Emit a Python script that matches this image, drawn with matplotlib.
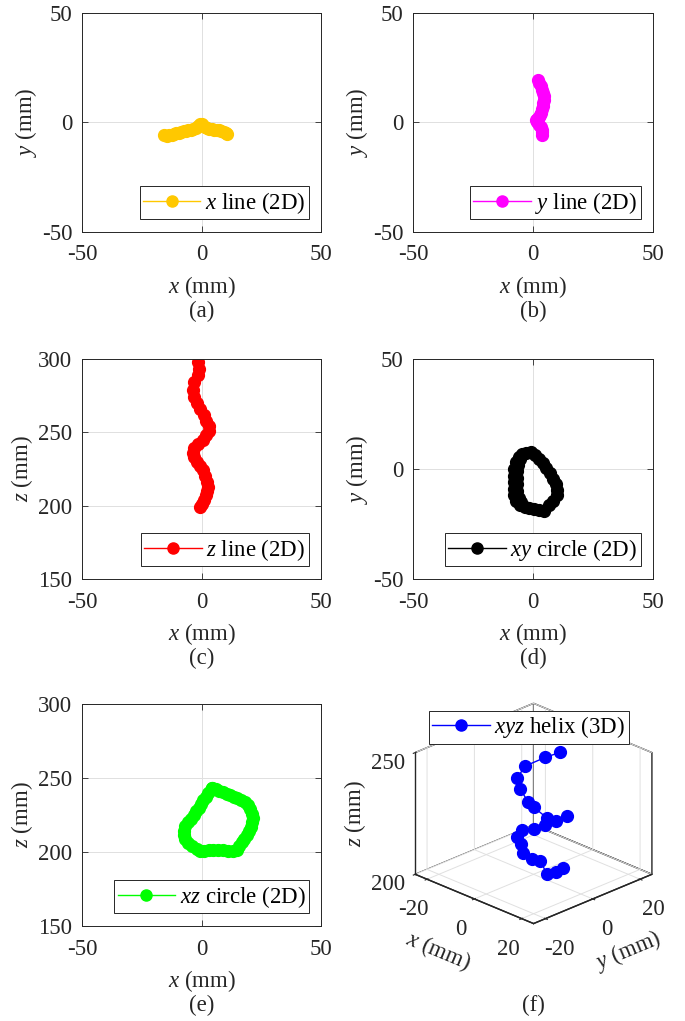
import matplotlib
matplotlib.use('Agg')
import matplotlib.pyplot as plt

plt.rcParams['font.family'] = ['Liberation Serif', 'DejaVu Serif']
plt.rcParams['mathtext.fontset'] = 'custom'
plt.rcParams['mathtext.rm'] = 'Liberation Serif'
plt.rcParams['mathtext.it'] = 'Liberation Serif:italic'
plt.rcParams['axes.unicode_minus'] = False
plt.rcParams['font.size'] = 16.5
plt.rcParams['grid.color'] = '#e0e0e0'
plt.rcParams['grid.linewidth'] = 0.7
plt.rcParams['text.color'] = '#262626'
plt.rcParams['axes.labelcolor'] = '#262626'
plt.rcParams['xtick.color'] = '#262626'
plt.rcParams['ytick.color'] = '#262626'

# (a) x line
xline_x = [-15.5, -14.5, -13.5, -12.5, -11.5, -10.5, -9.5, -8.5, -7.5, -6.5, -5.5, -4.5, -3.5, -2.5,
           -1.5, -0.5, 0.3, 1.3, 2.3, 3.3, 4.3, 5.3, 6.3, 7.3, 8.3, 9.3, 10.3, 10.8]
xline_y = [-5.8, -6.0, -5.9, -5.6, -5.3, -5.0, -4.6, -4.3, -4.0, -3.8, -3.5, -3.2, -2.8, -2.3,
           -1.6, -0.9, -0.6, -2.0, -2.7, -2.9, -3.0, -3.2, -3.4, -3.6, -3.9, -4.3, -4.8, -5.3]

# (b) y line
yline_x = [2.2, 2.6, 3.2, 3.8, 4.3, 4.5, 4.4, 4.2, 4.0, 3.7, 3.4, 3.1, 2.6, 1.8, 1.2, 1.8, 2.6, 3.2, 3.6, 3.7, 3.7]
yline_y = [19.5, 18, 16.5, 15, 13.5, 12, 10.5, 9, 7.5, 6, 4.5, 3.5, 2.5, 1.8, 1.0, 0, -1, -2.2, -3.4, -4.5, -5.5]

# (c) z line
zline_x = [-1.6, -1.0, -1.5, -3.0, -3.4, -3.0, -2.0, -0.5, 1.0, 2.0, 3.0, 3.0, 2.0, 0.5, -1.5,
           -3.0, -3.5, -3.0, -2.0, -0.5, 0.5, 1.5, 2.5, 2.8, 2.5, 2.0, 1.0, 0.0, -0.5]
zline_z = [298, 293, 289, 284, 279, 274, 270, 266, 262, 258, 254, 251, 248, 245, 242,
           239, 236, 233, 230, 227, 224, 220, 216, 213, 210, 207, 204, 201, 199]

# (d) xy circle (one lap, then a second pass down the left side)
xycirc_x = [-3, -1, 1, 2.5, 4, 5.5, 7, 8.5, 9.5, 10, 10, 8.5, 6.5, 4.5, 2.5, 0.5, -1.5, -3.5, -5.5, -7,
            -8, -8, -8, -8, -7.8, -7.2, -6, -4.5, -5.5, -6.3, -6.5, -6.5, -6.5, -6.5, -6, -5]
xycirc_y = [7.2, 7.5, 6.5, 4.5, 2.5, 0.3, -2, -4.5, -7, -9.5, -12, -14.5, -16.5, -19, -18.5, -18, -17.8, -17.5, -16.5, -14.5,
            -12, -9, -6, -3, 0, 3, 5.5, 6.8, 4.5, 2, -1, -4, -7, -10, -13, -15]

# (e) xz circle
xzcirc_x = [4.5, 6, 7.5, 9, 10.5, 12, 13.5, 15, 16.5, 18, 19.5, 20.5, 21.3, 21.5, 21.3, 20.8, 20, 19, 17.8,
            16.8, 15.8, 14.8, 13, 11, 9, 7, 5, 3, 1, -0.5, -2, -3.8, -5.5, -6.8, -7.5, -7.5, -7, -5.8,
            -4.5, -3.2, -2.2, -1.2, -0.2, 0.8, 1.8, 2.8, 3.8, 4.5]
xzcirc_z = [243, 242.5, 241.5, 240.5, 239.5, 238.5, 237.5, 236.5, 235, 233.5, 231.5, 229, 226, 223, 220, 217, 214, 211.5, 209,
            206.5, 204, 201.5, 201, 201, 201.3, 201.5, 201.6, 201.5, 201, 200.5, 202, 204, 206, 208.5, 211.5, 214.5, 217.5, 220,
            222.5, 225, 227.5, 230, 232.5, 235, 237.5, 240, 242, 243]

# (f) xyz helix
helix_x = [7.95, 9.4, 8.3, 7.0, 4.9, 1.7, 0.45, -2.15, -5.45, -4.7, -2.5, 6.75, 9.4, 8.3, 5.3, 3.6, -0.1, -3.15, -5.55, -2.5, 2.3]
helix_y = [4.45, 0.2, -2.6, -4.1, -5.4, -6.0, -5.85, -4.65, 0.75, 4.8, 7.5, 7.25, 0.2, -2.6, -5.2, -5.8, -5.7, -3.65, 1.95, 7.5, 8.95]
helix_z = [204.1, 204.8, 204.4, 209.9, 210.3, 211.7, 215.2, 216.3, 215.5, 214.8, 216.4, 223.9, 225.6, 227.5, 231.8, 233.4, 237.5, 239.9, 241.4, 244.0, 247.4]

W, H = 685, 1021
fig = plt.figure(figsize=(W / 100, H / 100), dpi=100)
MS = 8.5


def rect(left, top, right, bottom):
    return [left / W, 1 - bottom / H, (right - left) / W, (bottom - top) / H]


def style_legend(leg):
    leg.get_frame().set_linewidth(0.7)
    for t in leg.get_texts():
        t.set_color('black')


def panel(box, xs, ys, color, label, ylab, ylim, yticks, cap):
    ax = fig.add_axes(rect(*box))
    ax.plot(xs, ys, '-o', color=color, mfc=color, mec=color, ms=MS, lw=1, label=label)
    ax.set_xlim(-50, 50)
    ax.set_ylim(*ylim)
    ax.set_xticks([-50, 0, 50])
    ax.set_yticks(yticks)
    ax.grid(True)
    ax.set_axisbelow(True)
    ax.tick_params(direction='in', length=4, width=0.6, top=True, right=True)
    ax.tick_params(axis='x', pad=9)
    ax.tick_params(axis='y', pad=7)
    for s in ax.spines.values():
        s.set_color('#262626')
        s.set_linewidth(0.7)
    ax.set_xlabel('$x$ (mm)', labelpad=6)
    ax.set_ylabel(ylab, labelpad=2)
    leg = ax.legend(loc='lower right', bbox_to_anchor=(0.949, 0.058), borderaxespad=0,
                    fancybox=False, edgecolor='#262626', framealpha=1,
                    handlelength=2.5, handletextpad=0.2, borderpad=0.15, markerscale=8 / MS)
    style_legend(leg)
    cx = (box[0] + box[2]) / 2
    fig.text(cx / W, 1 - (box[3] + 79) / H, cap, ha='center', va='center')
    return ax


panel((82, 13, 321, 232), xline_x, xline_y, '#ffc800', '$x$ line (2D)', '$y$ (mm)', (-50, 50), [-50, 0, 50], '(a)')
panel((413, 13, 653, 232), yline_x, yline_y, '#ff00ff', '$y$ line (2D)', '$y$ (mm)', (-50, 50), [-50, 0, 50], '(b)')
panel((82, 359, 321, 579), zline_x, zline_z, '#ff0000', '$z$ line (2D)', '$z$ (mm)', (150, 300), [150, 200, 250, 300], '(c)')
panel((413, 359, 653, 579), xycirc_x, xycirc_y, '#000000', '$xy$ circle (2D)', '$y$ (mm)', (-50, 50), [-50, 0, 50], '(d)')
panel((82, 704, 321, 926), xzcirc_x, xzcirc_z, '#00ff00', '$xz$ circle (2D)', '$z$ (mm)', (150, 300), [150, 200, 250, 300], '(e)')

# (f) 3D helix
ax3 = fig.add_axes(rect(381, 685, 679, 949), projection='3d')
ax3.set_proj_type('ortho')
ax3.view_init(elev=24.6, azim=-45)
ax3.set_box_aspect((1, 1, 0.8))
ax3.plot(helix_x, helix_y, helix_z, '-o', color='#0000ff', mfc='#0000ff', mec='#0000ff',
         ms=MS, lw=1, label='$xyz$ helix (3D)')
ax3.set_xlim(-25, 25)
ax3.set_ylim(-25, 25)
ax3.set_zlim(200, 250)
ax3.set_xticks([-20, 0, 20])
ax3.set_yticks([-20, 0, 20])
ax3.set_zticks([200, 250])
for a in (ax3.xaxis, ax3.yaxis, ax3.zaxis):
    a.set_pane_color('white')
    a.pane.set_edgecolor('#262626')
    a.pane.set_linewidth(1.0)
    a.line.set_color('#262626')
    a.line.set_linewidth(1.0)
ax3.zaxis.set_ticks_position('lower')
ax3.zaxis.set_label_position('lower')
ax3.set_xlabel('$x$ (mm)', labelpad=9)
ax3.set_ylabel('$y$ (mm)', labelpad=9)
ax3.set_zlabel('$z$ (mm)')
leg = ax3.legend(loc='upper left', bbox_to_anchor=(429 / W, 1 - 711 / H), bbox_transform=fig.transFigure,
                 borderaxespad=0, fancybox=False, edgecolor='#262626', framealpha=1,
                 handlelength=2.5, handletextpad=0.2, borderpad=0.15, markerscale=8 / MS)
style_legend(leg)
fig.text(533 / W, 1 - 1005 / H, '(f)', ha='center', va='center')

fig.savefig('out.png', dpi=100)
